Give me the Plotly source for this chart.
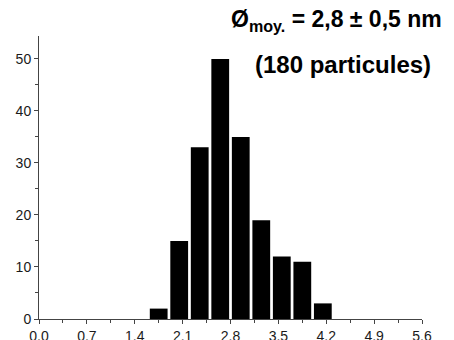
import plotly.graph_objects as go

# ── Data: particle size histogram (bin centres in nm, counts) ──────────────────
bin_centres = [1.75, 2.05, 2.35, 2.65, 2.95, 3.25, 3.55, 3.85, 4.15]
counts      = [2, 15, 33, 50, 35, 19, 12, 11, 3]
x_ticks     = [0.0, 0.7, 1.4, 2.1, 2.8, 3.5, 4.2, 4.9, 5.6]
y_ticks     = [0, 10, 20, 30, 40, 50]

FONT = "Liberation Sans, Arial, sans-serif"
AXIS = "#444444"

fig = go.Figure(go.Bar(
    x=bin_centres, y=counts, width=0.26,
    marker=dict(color="black", line=dict(width=0)),
    showlegend=False,
))

# the page body adds an 8px offset; margins are set so the plot lands where it should
fig.update_layout(
    width=454, height=340,
    margin=dict(l=31, r=40, t=28, b=29, autoexpand=False),
    paper_bgcolor="white", plot_bgcolor="white",
    font=dict(family=FONT, size=14, color="#1a1a1a"),
)

axis_style = dict(
    showgrid=False, zeroline=False, showline=True, linecolor=AXIS, linewidth=1,
    ticks="outside", ticklen=4, tickcolor=AXIS, automargin=False,
)
fig.update_xaxes(
    range=[0, 5.6], tickvals=x_ticks, ticktext=[f"{v:.1f}" for v in x_ticks],
    minor=dict(dtick=0.35, tick0=0, ticks="outside", ticklen=3, tickcolor=AXIS),
    **axis_style,
)
fig.update_yaxes(
    range=[0, 54.4], tickvals=y_ticks,
    minor=dict(dtick=5, tick0=0, ticks="outside", ticklen=3, tickcolor=AXIS),
    **axis_style,
)

fig.add_annotation(
    text="<b>Ø<sub>moy.</sub> = 2,8 ± 0,5 nm</b>",
    xref="paper", yref="paper", x=0.497, y=1.055, xanchor="left", yanchor="middle",
    showarrow=False, font=dict(family=FONT, size=23, color="black"),
)
fig.add_annotation(
    text="<b>(180 particules)</b>",
    xref="paper", yref="paper", x=0.795, y=0.9, xanchor="center", yanchor="middle",
    showarrow=False, font=dict(family=FONT, size=24, color="black"),
)

fig.write_html("out.html")
